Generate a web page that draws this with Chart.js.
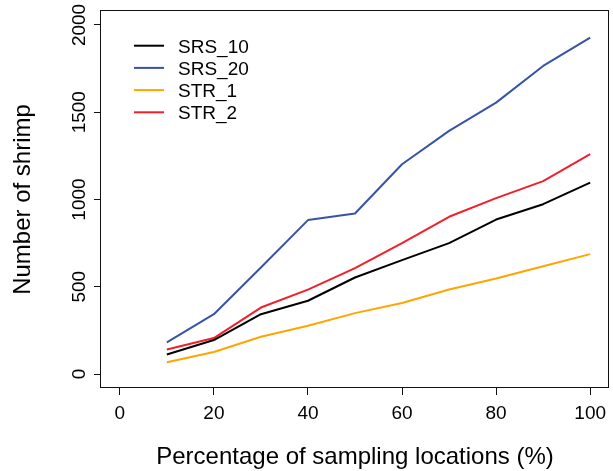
<!DOCTYPE html>
<html>
<head>
<meta charset="utf-8">
<script src="https://cdn.jsdelivr.net/npm/chart.js@4.4.1/dist/chart.umd.min.js"></script>
<style>
    html, body { margin: 0; padding: 0; background: #fff; }
    #wrap { width: 613px; height: 471px; }
</style>
</head>
<body>
<div id="wrap"><canvas id="chart" width="613" height="471"></canvas></div>
<script>
// Percentage of sampling locations (x) and shrimp counts per design
var pct = [10, 20, 30, 40, 50, 60, 70, 80, 90, 100];
var srs10 = [112, 195, 343, 420, 553, 653, 750, 885, 973, 1097];
var srs20 = [181, 343, 610, 882, 920, 1202, 1393, 1555, 1765, 1927];
var str1 = [67, 126, 214, 277, 349, 407, 484, 547, 618, 687];
var str2 = [141, 206, 381, 484, 607, 750, 901, 1008, 1105, 1260];

var seriesNames = ['SRS_10', 'SRS_20', 'STR_1', 'STR_2'];
var seriesColors = ['#000000', '#3953a4', '#ffa500', '#f0202a'];
var xTicks = [0, 20, 40, 60, 80, 100];
var yTicks = [0, 500, 1000, 1500, 2000];

var FONT = "'Liberation Sans', Arial, Helvetica, sans-serif";

function points(ys) {
    return pct.map(function (x, i) { return { x: x, y: ys[i] }; });
}

var allSeries = [srs10, srs20, str1, str2];
var datasets = allSeries.map(function (s, i) {
    return {
        label: seriesNames[i],
        data: points(s),
        borderColor: seriesColors[i],
        borderWidth: 2,
        pointRadius: 0,
        tension: 0,
        borderJoinStyle: 'round',
        fill: false,
    };
});

// R-style frame, tick labels, axis titles and legend
var decor = {
    id: 'decor',
    afterDraw: function (chart) {
        var ctx = chart.ctx;
        var a = chart.chartArea;
        var xs = chart.scales.x;
        var ys = chart.scales.y;
        ctx.save();

        ctx.strokeStyle = '#111';
        ctx.lineWidth = 1;
        ctx.strokeRect(a.left - 0.5, a.top - 0.5, a.right - a.left, a.bottom - a.top);

        ctx.fillStyle = '#000';
        ctx.font = '19px ' + FONT;
        ctx.textAlign = 'center';
        ctx.textBaseline = 'alphabetic';
        xTicks.forEach(function (v) {
            ctx.fillText(String(v), xs.getPixelForValue(v), 419);
        });
        yTicks.forEach(function (v) {
            ctx.save();
            ctx.translate(85, ys.getPixelForValue(v));
            ctx.rotate(-Math.PI / 2);
            ctx.fillText(String(v), 0, 0);
            ctx.restore();
        });

        ctx.font = '24px ' + FONT;
        ctx.fillText('Percentage of sampling locations (%)', (a.left + a.right) / 2, 464);
        ctx.save();
        ctx.translate(30, (a.top + a.bottom) / 2);
        ctx.rotate(-Math.PI / 2);
        ctx.fillText('Number of shrimp', 0, 0);
        ctx.restore();

        ctx.font = '19px ' + FONT;
        ctx.textAlign = 'left';
        seriesNames.forEach(function (name, i) {
            var y = 45.7 + i * 22.2;
            ctx.strokeStyle = seriesColors[i];
            ctx.lineWidth = 2;
            ctx.beginPath();
            ctx.moveTo(134, y);
            ctx.lineTo(164, y);
            ctx.stroke();
            ctx.fillText(name, 178, y + 6.8);
        });

        ctx.restore();
    },
};

new Chart(document.getElementById('chart'), {
    type: 'line',
    data: { datasets: datasets },
    options: {
        responsive: false,
        devicePixelRatio: 1,
        animation: false,
        layout: { padding: { left: 0, top: 11, right: 4, bottom: 0 } },
        plugins: { legend: { display: false }, tooltip: { enabled: false } },
        scales: {
            x: {
                type: 'linear',
                min: -4,
                max: 104,
                afterBuildTicks: function (s) {
                    s.ticks = xTicks.map(function (v) { return { value: v }; });
                },
                afterFit: function (s) { s.height = 83; },
                ticks: { display: false },
                border: { display: false },
                grid: { drawOnChartArea: false, drawTicks: true, tickLength: 7, color: '#111', lineWidth: 1 },
            },
            y: {
                type: 'linear',
                min: -80,
                max: 2080,
                afterBuildTicks: function (s) {
                    s.ticks = yTicks.map(function (v) { return { value: v }; });
                },
                afterFit: function (s) { s.width = 101; },
                ticks: { display: false },
                border: { display: false },
                grid: { drawOnChartArea: false, drawTicks: true, tickLength: 7, color: '#111', lineWidth: 1 },
            },
        },
    },
    plugins: [decor],
});
</script>
</body>
</html>
